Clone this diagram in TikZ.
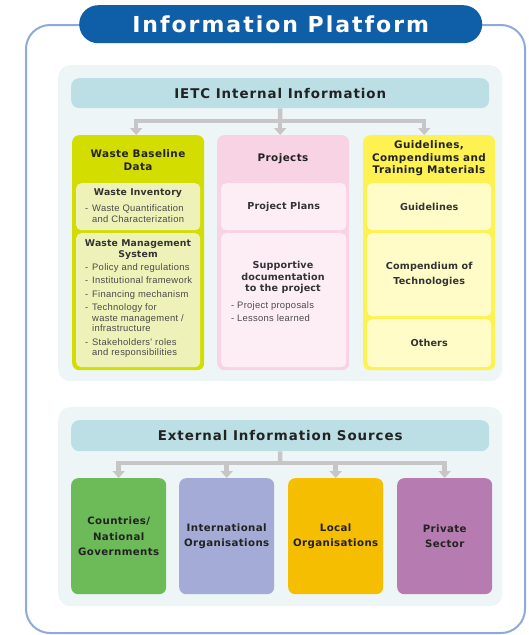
\documentclass[tikz,border=0pt]{standalone}
\usepackage{fontspec}
\setmainfont{Liberation Sans}
\newfontfamily\ftitle[LetterSpace=9]{DejaVu Sans}
\newfontfamily\fhead[LetterSpace=7]{DejaVu Sans}
\newfontfamily\fcol[LetterSpace=4]{DejaVu Sans}
\newfontfamily\fsmall[LetterSpace=1.5]{DejaVu Sans}
\newfontfamily\fsrc[LetterSpace=4]{DejaVu Sans}
\newfontfamily\flist[LetterSpace=3]{Liberation Sans}
\usetikzlibrary{arrows.meta,calc}
\definecolor{framec}{HTML}{8EA9DB}
\definecolor{titlec}{HTML}{0F5FA8}
\definecolor{panelc}{HTML}{EDF5F7}
\definecolor{headc}{HTML}{BCDFE5}
\definecolor{arrc}{HTML}{C6C6C6}
\definecolor{limeo}{HTML}{D3DE00}
\definecolor{limei}{HTML}{EFF2B8}
\definecolor{pinko}{HTML}{F8D3E3}
\definecolor{pinki}{HTML}{FDEEF5}
\definecolor{yelo}{HTML}{FEF152}
\definecolor{yeli}{HTML}{FFFCC8}
\definecolor{greenc}{HTML}{6DBA58}
\definecolor{lavc}{HTML}{A4ABD6}
\definecolor{orangec}{HTML}{F5BE00}
\definecolor{mauvec}{HTML}{B67BB0}
\definecolor{txt}{HTML}{222222}
\definecolor{subc}{HTML}{333333}
\definecolor{listc}{HTML}{4A4A4A}
\newcommand\itm[1]{\makebox[7pt][l]{-}#1}
\newcommand\cnt[1]{\hspace*{7pt}#1}
\begin{document}
\begin{tikzpicture}[x=1pt,y=-1pt,
  box/.style={draw=none,rounded corners=7pt,inner sep=0pt,anchor=north west,align=center},
  panel/.style={box,fill=panelc,rounded corners=12pt},
  hdr/.style={box,fill=headc,rounded corners=8pt,text=txt,font=\fontsize{13.4}{15}\selectfont\fhead\bfseries},
  coltitle/.style={inner sep=0pt,align=center,text=txt,font=\fontsize{10.4}{12.5}\selectfont\fcol\bfseries},
  subtitle/.style={inner sep=0pt,align=center,text=subc,font=\fontsize{9.3}{11}\selectfont\fsmall\bfseries},
  inbox/.style={box,text=subc,font=\fontsize{9.6}{15}\selectfont\fsmall\bfseries},
  listtxt/.style={inner sep=0pt,align=left,anchor=west,text=listc,font=\fontsize{9.4}{10.5}\selectfont\flist},
  srcbox/.style={box,minimum width=95,minimum height=116,text=txt,font=\fontsize{10.2}{15.5}\selectfont\fsrc\bfseries},
  conn/.style={draw=arrc,line width=4.5pt},
  arr/.style={conn,-{Triangle[width=12pt,length=7pt]}}]
\useasboundingbox (0,0) rectangle (529,635);
% outer frame
\draw[draw=framec,line width=2pt,rounded corners=24pt] (26,25) rectangle (525,633);
% title
\node[box,fill=titlec,rounded corners=19pt,minimum width=403,minimum height=38,text=white,
  font=\fontsize{22}{24}\selectfont\ftitle\bfseries] (title) at (79,5) {Information Platform};
% top panel
\node[panel,minimum width=444,minimum height=316] (toppanel) at (58,65) {};
\node[hdr,minimum width=418,minimum height=30] (ietc) at (71,78) {IETC Internal Information};
% columns
\node[box,fill=limeo,minimum width=132,minimum height=235] (waste) at (72,135) {};
\node[box,fill=pinko,minimum width=132,minimum height=235] (proj) at (217,135) {};
\node[box,fill=yelo,minimum width=132,minimum height=235] (guide) at (363,135) {};
% column titles
\node[coltitle] (wastet) at (138,160) {Waste Baseline\\Data};
\node[coltitle] (projt) at (283,159) {Projects};
\node[coltitle] (guidet) at (429,158.5) {Guidelines,\\Compendiums and\\Training Materials};
% left inner boxes
\node[box,fill=limei,rounded corners=5pt,minimum width=124,minimum height=47] (inv) at (76,183) {};
\node[subtitle] (invt) at (138,193) {Waste Inventory};
\node[listtxt] (invl) at (85,213.5) {\itm{Waste Quantification}\\\cnt{and Characterization}};
\node[box,fill=limei,rounded corners=5pt,minimum width=124,minimum height=134] (wms) at (76,233) {};
\node[subtitle] (wmst) at (138,249.5) {Waste Management\\System};
\node[listtxt] (wmsl) at (85,310.5) {\itm{Policy and regulations}\\[3pt]
  \itm{Institutional framework}\\[3pt]
  \itm{Financing mechanism}\\[3pt]
  \itm{Technology for}\\
  \cnt{waste management /}\\
  \cnt{infrastructure}\\[3pt]
  \itm{Stakeholders' roles}\\
  \cnt{and responsibilities}};
% middle inner boxes
\node[inbox,fill=pinki,rounded corners=5pt,minimum width=125,minimum height=47] (plans) at (221,183) {Project Plans};
\node[box,fill=pinki,rounded corners=5pt,minimum width=125,minimum height=134] (supp) at (221,233) {};
\node[subtitle,font=\fontsize{9.6}{11.5}\selectfont\fsmall\bfseries] (suppt) at (283,277.5) {Supportive\\documentation\\to the project};
\node[listtxt,font=\fontsize{9.4}{13}\selectfont\flist] (suppl) at (231,311.5) {- Project proposals\\- Lessons learned};
% right inner boxes
\node[inbox,fill=yeli,rounded corners=5pt,minimum width=124,minimum height=47] (gl) at (367,183) {Guidelines};
\node[inbox,fill=yeli,rounded corners=5pt,minimum width=124,minimum height=83] (comp) at (367,233) {Compendium of\\Technologies};
\node[inbox,fill=yeli,rounded corners=5pt,minimum width=124,minimum height=48] (oth) at (367,319) {Others};
% top connectors
\coordinate (j1) at (280,121);
\draw[conn] (ietc.south) -- (j1);
\draw[arr] (j1) -| ([xshift=-2pt]waste.north);
\draw[arr] (j1) -| ([xshift=-3pt]proj.north);
\draw[arr] (j1) -| ([xshift=-5pt]guide.north);
% bottom panel
\node[panel,minimum width=444,minimum height=199] (botpanel) at (58,407) {};
\node[hdr,minimum width=418,minimum height=31] (ext) at (71,420) {External Information Sources};
\node[srcbox,fill=greenc] (gov) at (71,478) {Countries/\\National\\Governments};
\node[srcbox,fill=lavc] (intl) at (179,478) {International\\Organisations};
\node[srcbox,fill=orangec] (local) at (288,478) {Local\\Organisations};
\node[srcbox,fill=mauvec] (priv) at (397,478) {Private\\Sector};
\coordinate (j2) at (280,463);
\draw[conn] (ext.south) -- (j2);
\draw[arr] (j2) -| (gov.north);
\draw[arr] (j2) -| (intl.north);
\draw[arr] (j2) -| (local.north);
\draw[arr] (j2) -| (priv.north);
\end{tikzpicture}
\end{document}
